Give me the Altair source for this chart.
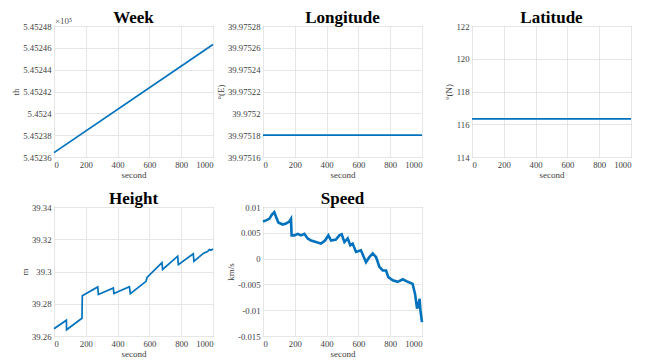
import altair as alt
import pandas as pd

# ---- data ----
week_t = [0, 1000]
week_v = [545236.4, 545246.3]

lon_t = [0, 1000]
lon_v = [39.97518, 39.97518]

lat_t = [0, 1000]
lat_v = [116.33, 116.33]

height_t = [0, 78, 79, 176, 178, 275, 279, 373, 377, 474, 480, 579, 585, 679, 683,
            778, 782, 876, 880, 941, 966, 977, 987, 1000]
height_v = [39.2645, 39.2698, 39.2639, 39.2710, 39.2849, 39.2904, 39.2857, 39.2898,
            39.2863, 39.2906, 39.2863, 39.2939, 39.2963, 39.3055, 39.3013, 39.3095,
            39.3043, 39.3110, 39.3063, 39.3114, 39.3124, 39.3136, 39.3132, 39.3140]

speed_t = [0, 19, 40, 55, 71, 82, 96, 124, 145, 166, 176, 180, 197, 218, 239, 260,
           281, 302, 333, 365, 390, 411, 428, 459, 480, 495, 512, 533, 549, 564, 585,
           616, 648, 669, 690, 711, 732, 753, 774, 788, 816, 847, 879, 910, 941, 956,
           969, 979, 985, 990, 1000]
speed_v = [0.0072, 0.0074, 0.0077, 0.0085, 0.0090, 0.0081, 0.0070, 0.0066, 0.0068,
           0.0072, 0.0077, 0.0045, 0.0045, 0.0048, 0.0045, 0.0048, 0.0039, 0.0035,
           0.0032, 0.0029, 0.0035, 0.0045, 0.0035, 0.0037, 0.0045, 0.0047, 0.0032,
           0.0039, 0.0026, 0.0029, 0.0013, 0.0016, -0.0007, 0.0003, 0.0010, 0.0003,
           -0.0016, -0.0023, -0.0023, -0.0036, -0.0042, -0.0045, -0.0040, -0.0045,
           -0.0049, -0.0068, -0.0097, -0.0087, -0.0078, -0.0100, -0.0123]

titles = ["Week", "Longitude", "Latitude", "Height", "Speed"]
y_titles = ["th", "°(E)", "°(N)", "m", "km/s"]
x_title = "second"
exponent_label = "×10⁵"

x_ticks = [0, 200, 400, 600, 800, 1000]
week_ticks = [545236, 545238, 545240, 545242, 545244, 545246, 545248]
lon_ticks = [round(39.97516 + 0.00002 * i, 5) for i in range(7)]
lat_ticks = [114, 116, 118, 120, 122]
height_ticks = [39.26, 39.28, 39.30, 39.32, 39.34]
speed_ticks = [-0.015, -0.01, -0.005, 0, 0.005, 0.01]

BLUE = "#0072BD"
FONT = "Liberation Serif"
LAB = "#404040"


def axis(values, expr):
    return alt.Axis(values=values, labelExpr=expr, labelFont=FONT, titleFont=FONT,
                    labelFontSize=8.7, titleFontSize=9, labelColor=LAB, titleColor=LAB,
                    titleFontWeight="normal", gridColor="#e6e6e6", domain=False,
                    ticks=False, labelPadding=3, titlePadding=2)


def panel(t, v, title, ytitle, ticks, label_expr, w, h, stroke=1.7, extra=None):
    df = pd.DataFrame({"t": t, "v": v})
    line = alt.Chart(df).mark_line(color=BLUE, strokeWidth=stroke).encode(
        x=alt.X("t:Q", title=x_title,
                scale=alt.Scale(domain=[0, 1000], nice=False),
                axis=axis(x_ticks, "format(datum.value, 'd')")),
        y=alt.Y("v:Q", title=ytitle,
                scale=alt.Scale(domain=[ticks[0], ticks[-1]], nice=False, zero=False),
                axis=axis(ticks, label_expr)),
    )
    head = alt.Chart(pd.DataFrame({"s": [title]})).mark_text(
        font=FONT, fontSize=17, fontWeight="bold", color="#000000",
        align="center", baseline="alphabetic"
    ).encode(x=alt.value(w / 2), y=alt.value(-3), text="s:N")
    layers = [line, head]
    if extra is not None:
        layers.append(extra)
    return alt.layer(*layers).properties(width=w, height=h)


exp_text = alt.Chart(pd.DataFrame({"s": [exponent_label]})).mark_text(
    align="left", baseline="alphabetic", fontSize=9, color="#555555", font=FONT
).encode(x=alt.value(1), y=alt.value(-2), text="s:N")

week = panel(week_t, week_v, titles[0], y_titles[0], week_ticks,
             "format(datum.value/100000, '.5~f')", 159, 131, extra=exp_text)
lon = panel(lon_t, lon_v, titles[1], y_titles[1], lon_ticks,
            "format(datum.value, '.5~f')", 159, 131)
lat = panel(lat_t, lat_v, titles[2], y_titles[2], lat_ticks,
            "format(datum.value, 'd')", 159, 131)
hgt = panel(height_t, height_v, titles[3], y_titles[3], height_ticks,
            "format(datum.value, '.2~f')", 159, 129)
spd = panel(speed_t, speed_v, titles[4], y_titles[4], speed_ticks,
            "replace(format(datum.value, '.3~f'), '−', '-')", 159, 129, stroke=2.6)

chart = alt.concat(week, lon, lat, hgt, spd, columns=3, spacing=50, bounds="flush",
                   padding={"left": 3, "top": 0, "right": 0, "bottom": 0}).configure(
    font=FONT,
).configure_view(
    stroke="#a0a0a0", strokeWidth=1
)

chart.save("out.html", embed_options={"renderer": "svg", "actions": False})
